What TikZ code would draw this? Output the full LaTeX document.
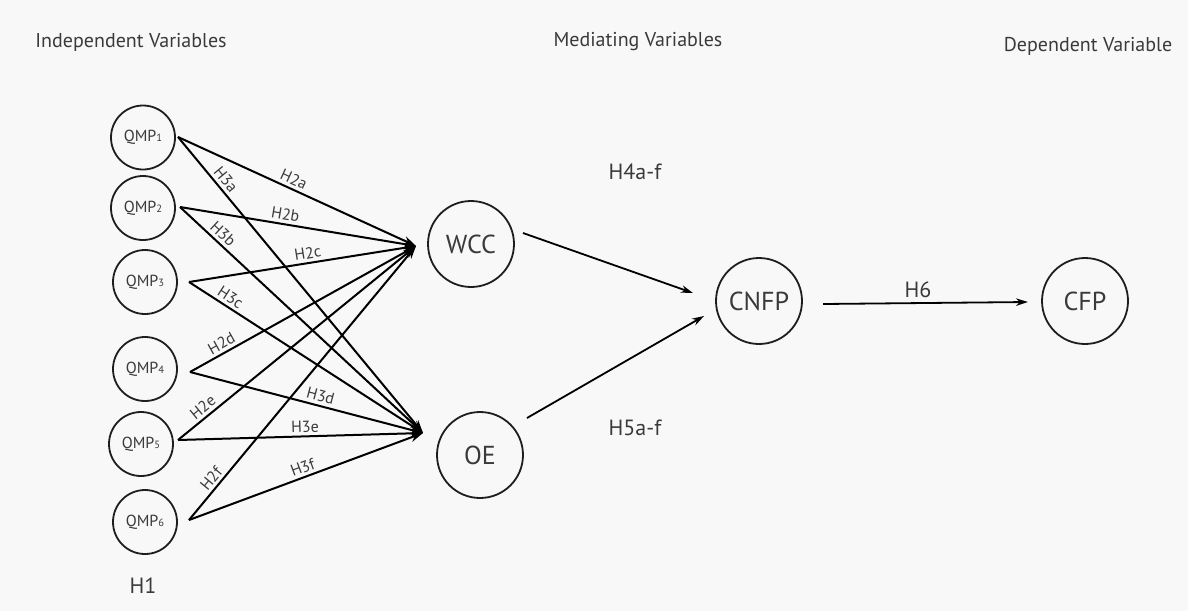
\documentclass[tikz,border=0pt]{standalone}
\usepackage{fontspec}
\setmainfont{PT Sans}
\usetikzlibrary{arrows.meta}
\definecolor{ink}{HTML}{1E1E1E}
\definecolor{txt}{HTML}{3A3A3A}
\definecolor{paper}{HTML}{F8F8F8}
\newcommand\qidx[1]{{\fontsize{10.5}{10.5}\selectfont #1}}

\begin{document}
\begin{tikzpicture}[x=1pt,y=-1pt,
  var/.style={circle, draw=ink, line width=1.8pt, inner sep=0pt, text=txt},
  qbox/.style={var, minimum size=64pt, font=\fontsize{16}{16}\selectfont},
  bigbox/.style={var, minimum size=86pt, font=\fontsize{26}{26}\selectfont},
  link/.style={draw=black, line width=2pt, -{Stealth[length=13pt,width=9pt]}},
  flow/.style={draw=black, line width=1.8pt, -{Stealth[length=12pt,width=7.5pt]}},
  hyp/.style={sloped, above, inner sep=3pt, font=\fontsize{16}{16}\selectfont, text=txt},
  head/.style={font=\fontsize{20}{20}\selectfont, text=txt},
  tag/.style={font=\fontsize{22}{22}\selectfont, text=txt}]

% canvas
\fill[paper] (0,0) rectangle (1188,611);
\useasboundingbox (0,0) rectangle (1188,611);

% column headings
\node[head] (hind) at (131,42) {Independent Variables};
\node[head] (hmed) at (638,42) {Mediating Variables};
\node[head] (hdep) at (1088,46) {Dependent Variable};

% independent variables
\node[qbox] (q1) at (143,137.5) {QMP\qidx{1}};
\node[qbox] (q2) at (143,208) {QMP\qidx{2}};
\node[qbox] (q3) at (145,282) {QMP\qidx{3}};
\node[qbox] (q4) at (145,369) {QMP\qidx{4}};
\node[qbox] (q5) at (141,444) {QMP\qidx{5}};
\node[qbox] (q6) at (145,522) {QMP\qidx{6}};
\node[tag] (h1) at (143,586) {H1};

% mediators and outcomes
\node[bigbox] (wcc) at (471,244) {WCC};
\node[bigbox] (oe) at (480,455) {OE};
\node[bigbox] (cnfp) at (759,301) {CNFP};
\node[bigbox] (cfp) at (1085,301) {CFP};

% line end points
\coordinate (s1) at (178,137);
\coordinate (s2) at (180,207);
\coordinate (s3) at (189,282);
\coordinate (s4) at (190,372);
\coordinate (s5) at (178,440);
\coordinate (s6) at (189,520);
\coordinate (t1) at (416,246);
\coordinate (t2) at (423,433);

% paths to WCC
\draw[link] (s1) -- node[hyp, pos=0.47] {H2a} (t1);
\draw[link] (s2) -- node[hyp, pos=0.44] {H2b} (t1);
\draw[link] (s3) -- node[hyp, pos=0.53] {H2c} (t1);
\draw[link] (s4) -- node[hyp, pos=0.16] {H2d} (t1);
\draw[link] (s5) -- node[hyp, pos=0.13] {H2e} (t1);
\draw[link] (s6) -- node[hyp, pos=0.13] {H2f} (t1);

% paths to OE
\draw[link] (s1) -- node[hyp, pos=0.165] {H3a} (t2);
\draw[link] (s2) -- node[hyp, pos=0.15] {H3b} (t2);
\draw[link] (s3) -- node[hyp, pos=0.155] {H3c} (t2);
\draw[link] (s4) -- node[hyp, pos=0.55] {H3d} (t2);
\draw[link] (s5) -- node[hyp, pos=0.52] {H3e} (t2);
\draw[link] (s6) -- node[hyp, pos=0.50] {H3f} (t2);

% mediators to CNFP, CNFP to CFP
\coordinate (w0) at (523,233);
\coordinate (w1) at (693,293);
\coordinate (o0) at (527,418);
\coordinate (o1) at (704,316);
\coordinate (c0) at (823,304);
\coordinate (c1) at (1028,302);
\draw[flow] (w0) -- (w1);
\draw[flow] (o0) -- (o1);
\draw[flow] (c0) -- (c1);

\node[tag] (h4) at (635,172) {H4a-f};
\node[tag] (h5) at (635,428) {H5a-f};
\node[tag] (h6) at (918,290) {H6};
\end{tikzpicture}
\end{document}
